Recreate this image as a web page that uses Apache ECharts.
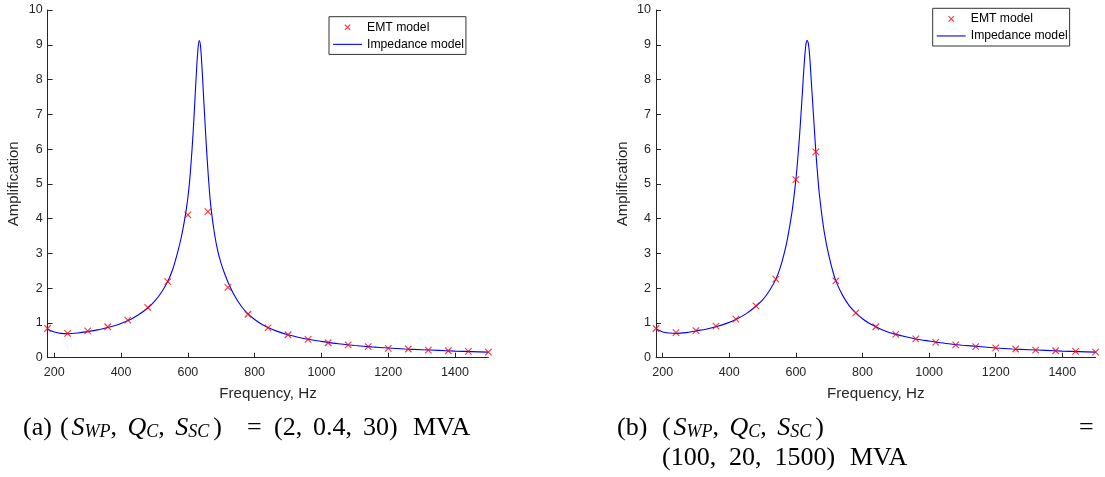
<!DOCTYPE html>
<html>
<head>
<meta charset="utf-8">
<script src="https://cdn.jsdelivr.net/npm/echarts@6/dist/echarts.min.js"></script>
<style>
html,body{margin:0;padding:0;background:#fff;}
#c{width:1105px;height:477px;}
</style>
</head>
<body>
<div id="c"></div>
<script>
// ---------- data ----------
const emtFreq = [180,240,300,360,420,480,540,600,660,720,780,840,900,960,1020,1080,1140,1200,1260,1320,1380,1440,1500];
const emtA = [0.84,0.70,0.77,0.89,1.08,1.45,2.19,4.11,4.20,2.02,1.25,0.86,0.66,0.53,0.43,0.37,0.32,0.27,0.25,0.22,0.20,0.18,0.16];
const emtB = [0.84,0.72,0.78,0.91,1.11,1.49,2.26,5.12,5.92,2.21,1.29,0.89,0.67,0.54,0.44,0.37,0.32,0.28,0.25,0.22,0.20,0.18,0.16];

const impFreqA = [180,200,220,240,270,300,330,360,390,420,450,480,500,520,540,555,570,580,590,595,600,605,610,615,620,625,630,634,638,642,646,650,655,660,665,670,680,690,700,710,720,740,760,780,800,820,840,870,900,930,960,1000,1050,1100,1150,1200,1250,1300,1350,1400,1450,1500];
const impA     = [0.82,0.74,0.70,0.69,0.71,0.75,0.80,0.87,0.95,1.06,1.22,1.43,1.62,1.87,2.20,2.55,3.05,3.45,3.95,4.25,4.60,5.05,5.65,6.35,7.20,8.10,8.85,9.12,8.95,8.40,7.70,7.00,6.15,5.40,4.75,4.25,3.55,3.05,2.70,2.42,2.18,1.78,1.48,1.26,1.10,0.97,0.87,0.75,0.66,0.59,0.53,0.47,0.40,0.35,0.31,0.28,0.25,0.23,0.21,0.19,0.175,0.16];

const impFreqB = [180,200,220,240,270,300,330,360,390,420,450,480,500,520,540,555,570,580,590,600,605,610,615,620,625,630,634,638,642,646,650,655,660,665,670,680,690,700,710,720,740,760,780,800,820,840,870,900,930,960,1000,1050,1100,1150,1200,1250,1300,1350,1400,1450,1500];
const impB     = [0.83,0.74,0.71,0.70,0.72,0.77,0.82,0.89,0.98,1.10,1.26,1.48,1.66,1.92,2.26,2.65,3.20,3.70,4.30,5.12,5.65,6.25,6.95,7.70,8.45,9.00,9.12,9.00,8.60,8.00,7.40,6.65,5.92,5.30,4.75,3.95,3.35,2.90,2.52,2.21,1.80,1.50,1.29,1.12,0.99,0.89,0.76,0.67,0.60,0.54,0.48,0.41,0.36,0.32,0.28,0.25,0.23,0.21,0.19,0.175,0.16];

const xTickValues = [200,400,600,800,1000,1200,1400];
const seriesNames = ['EMT model','Impedance model'];
const xName = 'Frequency, Hz';
const yName = 'Amplification';

// ---------- helpers ----------
const zip = (xs, ys) => xs.map((x, i) => [x, ys[i]]);
const AX = '#262626';
const xMark = 'path://M0,0L10,10M10,0L0,10';
const xMarkLegend = 'path://M-7,-7M17,17M0,0L10,10M10,0L0,10';
const lineLegend = 'path://M0,-6.5M0,6.5M0,0L29,0';

function xAxis(gi) {
  return {
    gridIndex: gi, type: 'value', min: 180, max: 1500,
    name: xName, nameLocation: 'middle', nameGap: 28.5,
    nameTextStyle: {color: AX, fontSize: 15.2, fontFamily: 'Liberation Sans'},
    axisLine: {show: true, onZero: false, lineStyle: {color: AX, width: 1}},
    axisTick: {show: true, inside: true, length: 5, lineStyle: {color: AX}, customValues: xTickValues},
    axisLabel: {show: true, color: AX, fontSize: 12.5, fontFamily: 'Liberation Sans', margin: 8,
                customValues: xTickValues, formatter: v => String(v)},
    splitLine: {show: false}
  };
}
function yAxis(gi) {
  return {
    gridIndex: gi, type: 'value', min: 0, max: 10, interval: 1,
    name: yName, nameLocation: 'middle', nameGap: 26, nameRotate: 90,
    nameTextStyle: {color: AX, fontSize: 15, fontFamily: 'Liberation Sans'},
    axisLine: {show: true, onZero: false, lineStyle: {color: AX, width: 1}},
    axisTick: {show: true, inside: true, length: 5, lineStyle: {color: AX}},
    axisLabel: {show: true, color: AX, fontSize: 12.5, fontFamily: 'Liberation Sans', margin: 5, formatter: v => String(v)},
    splitLine: {show: false}
  };
}
function emtSeries(gi, data) {
  return {
    name: seriesNames[0], type: 'scatter', xAxisIndex: gi, yAxisIndex: gi,
    data: zip(emtFreq, data), symbol: xMark, symbolSize: 6.5, z: 5,
    itemStyle: {color: 'rgba(0,0,0,0)', borderColor: '#ff0000', borderWidth: 1.1}
  };
}
function impSeries(gi, xs, ys) {
  return {
    name: seriesNames[1], type: 'line', xAxisIndex: gi, yAxisIndex: gi,
    data: zip(xs, ys), symbol: 'none', showSymbol: false, smooth: 0.3, z: 3,
    lineStyle: {color: '#0000ff', width: 1.1}, itemStyle: {color: '#0000ff'}
  };
}
function legend(left, top) {
  return {
    left: left, top: top, orient: 'vertical', itemWidth: 29, itemHeight: 13, itemGap: 3,
    padding: [3.5, 2, 3, 3.5], borderColor: '#333', borderWidth: 1, borderRadius: 0,
    selectedMode: false, backgroundColor: '#fff',
    textStyle: {color: '#000', fontSize: 12.2, fontFamily: 'Liberation Sans'},
    data: [
      {name: seriesNames[0], icon: xMarkLegend, itemStyle: {color: 'rgba(0,0,0,0)', borderColor: '#ff0000', borderWidth: 1.1}},
      {name: seriesNames[1], icon: lineLegend, itemStyle: {color: 'rgba(0,0,0,0)', borderColor: '#0000ff', borderWidth: 1.1}}
    ]
  };
}

// ---------- captions (LaTeX-like) ----------
const serifFont = 'Liberation Serif';
function st(w, italic, sub) {
  const s = {fontFamily: serifFont, fontSize: sub ? 18 : 26, lineHeight: sub ? 17 : 26,
             fontStyle: italic ? 'italic' : 'normal', color: '#000'};
  if (sub) s.verticalAlign = 'bottom';
  if (w) s.width = w;
  return s;
}
const rich = {
  n: st(0, false, false),
  p: st(11.5, false, false),
  i: st(0, true, false),
  s: st(0, true, true),
  sc: st(25, true, true),
  cm: st(17, false, false),
  na: st(39, false, false),
  nd: st(50, false, false),
  nb: st(45.5, false, false),
  nc: st(67, false, false)
};
const mathPart = '{p|(}{i|S}{s|WP}{cm|,}{i|Q}{s|C}{cm|,}{i|S}{sc|SC}{n|)}';
function cap(left, top, text) {
  return {type: 'text', left: left, top: top, style: {text: text, rich: rich}};
}

const chart = echarts.init(document.getElementById('c'), null, {renderer: 'canvas'});
chart.setOption({
  animation: false,
  backgroundColor: '#fff',
  grid: [
    {left: 47.6, top: 10, width: 440.8, height: 347.7, containLabel: false},
    {left: 656, top: 10, width: 439.6, height: 347.7, containLabel: false}
  ],
  xAxis: [xAxis(0), xAxis(1)],
  yAxis: [yAxis(0), yAxis(1)],
  legend: [legend(329, 16.7), legend(932.7, 8.3)],
  series: [
    impSeries(0, impFreqA, impA),
    emtSeries(0, emtA),
    impSeries(1, impFreqB, impB),
    emtSeries(1, emtB)
  ],
  graphic: [
    cap(23, 415, '{n|(a)}'),
    cap(60, 415, mathPart),
    cap(247, 415, '{n|=}'),
    cap(274, 415, '{na|(2,}{nd|0.4,}{n|30)}'),
    cap(413, 415, '{n|MVA}'),
    cap(617, 415, '{n|(b)}'),
    cap(662, 415, mathPart),
    cap(1079, 415, '{n|=}'),
    cap(662, 445, '{nc|(100,}{nb|20,}{n|1500)}'),
    cap(850, 445, '{n|MVA}')
  ]
});
</script>
</body>
</html>
